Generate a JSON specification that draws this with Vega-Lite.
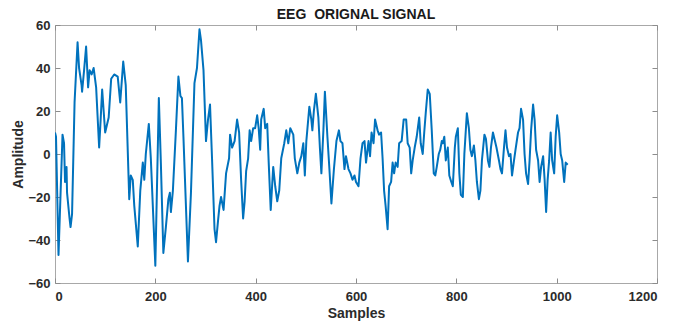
{
  "$schema": "https://vega.github.io/schema/vega-lite/v6.json",
  "width": 602,
  "height": 258,
  "autosize": {"type": "none"},
  "padding": {"left": 55, "top": 25, "right": 24, "bottom": 38},
  "background": "white",
  "title": {"text": "EEG\u00a0 ORIGNAL SIGNAL", "font": "Liberation Sans", "fontSize": 14, "fontWeight": "bold", "color": "#1a1a1a", "offset": -3, "anchor": "middle"},
  "data": {"values": [
    {"s":0,"v":10},{"s":2,"v":8},{"s":7,"v":-47},{"s":15,"v":9},{"s":18,"v":5},{"s":20,"v":-13},{"s":23,"v":-6},{"s":24,"v":-18},{"s":29,"v":-30},{"s":31,"v":-34},{"s":34,"v":-28},{"s":39,"v":24},{"s":45,"v":52},{"s":48,"v":40},{"s":53,"v":32},{"s":54,"v":29},{"s":58,"v":39},{"s":62,"v":50},{"s":66,"v":31},{"s":69,"v":39},{"s":73,"v":37},{"s":77,"v":40},{"s":82,"v":31},{"s":88,"v":3},{"s":91,"v":16},{"s":94,"v":30},{"s":100,"v":10},{"s":107,"v":17},{"s":112,"v":35},{"s":118,"v":37},{"s":125,"v":36},{"s":130,"v":24},{"s":136,"v":43},{"s":141,"v":32},{"s":148,"v":-21},{"s":151,"v":-10},{"s":155,"v":-12},{"s":158,"v":-24},{"s":165,"v":-43},{"s":170,"v":-17},{"s":175,"v":-4},{"s":178,"v":-12},{"s":181,"v":0},{"s":187,"v":14},{"s":191,"v":-2},{"s":200,"v":-52},{"s":207,"v":26},{"s":211,"v":-4},{"s":216,"v":-46},{"s":221,"v":-34},{"s":226,"v":-21},{"s":229,"v":-18},{"s":231,"v":-27},{"s":235,"v":-17},{"s":241,"v":11},{"s":246,"v":36},{"s":250,"v":27},{"s":253,"v":26},{"s":256,"v":8},{"s":265,"v":-50},{"s":271,"v":-18},{"s":278,"v":33},{"s":283,"v":40},{"s":288,"v":58},{"s":291,"v":53},{"s":296,"v":39},{"s":301,"v":6},{"s":305,"v":16},{"s":309,"v":23},{"s":313,"v":-2},{"s":318,"v":-35},{"s":321,"v":-41},{"s":325,"v":-31},{"s":328,"v":-24},{"s":331,"v":-20},{"s":336,"v":-26},{"s":341,"v":-9},{"s":347,"v":-2},{"s":349,"v":9},{"s":353,"v":3},{"s":358,"v":6},{"s":363,"v":16},{"s":367,"v":10},{"s":371,"v":-12},{"s":375,"v":-30},{"s":378,"v":-22},{"s":381,"v":-8},{"s":385,"v":-2},{"s":388,"v":11},{"s":391,"v":6},{"s":395,"v":12},{"s":399,"v":12},{"s":403,"v":18},{"s":406,"v":12},{"s":409,"v":2},{"s":411,"v":16},{"s":416,"v":21},{"s":419,"v":12},{"s":423,"v":14},{"s":426,"v":-4},{"s":430,"v":-26},{"s":435,"v":-6},{"s":439,"v":-15},{"s":443,"v":-22},{"s":447,"v":-17},{"s":451,"v":-2},{"s":457,"v":5},{"s":461,"v":11},{"s":465,"v":5},{"s":469,"v":12},{"s":475,"v":9},{"s":478,"v":-2},{"s":483,"v":-9},{"s":487,"v":-4},{"s":491,"v":-1},{"s":495,"v":5},{"s":498,"v":-10},{"s":501,"v":6},{"s":507,"v":22},{"s":511,"v":16},{"s":513,"v":11},{"s":516,"v":20},{"s":520,"v":28},{"s":525,"v":17},{"s":528,"v":3},{"s":531,"v":-9},{"s":535,"v":11},{"s":538,"v":29},{"s":543,"v":8},{"s":547,"v":-7},{"s":551,"v":-23},{"s":556,"v":-7},{"s":561,"v":6},{"s":566,"v":11},{"s":569,"v":6},{"s":573,"v":5},{"s":577,"v":-7},{"s":580,"v":-1},{"s":585,"v":-7},{"s":589,"v":-9},{"s":593,"v":-12},{"s":597,"v":-10},{"s":600,"v":-13},{"s":605,"v":-15},{"s":609,"v":-2},{"s":613,"v":5},{"s":617,"v":6},{"s":620,"v":-4},{"s":625,"v":6},{"s":628,"v":-1},{"s":631,"v":10},{"s":635,"v":5},{"s":638,"v":16},{"s":643,"v":11},{"s":646,"v":9},{"s":650,"v":10},{"s":653,"v":-2},{"s":656,"v":-17},{"s":659,"v":-24},{"s":663,"v":-35},{"s":666,"v":-15},{"s":670,"v":-13},{"s":673,"v":-4},{"s":676,"v":-9},{"s":679,"v":-4},{"s":683,"v":-6},{"s":686,"v":5},{"s":691,"v":6},{"s":695,"v":16},{"s":700,"v":16},{"s":703,"v":5},{"s":707,"v":3},{"s":710,"v":-9},{"s":713,"v":-3},{"s":717,"v":3},{"s":721,"v":8},{"s":726,"v":17},{"s":729,"v":5},{"s":733,"v":0},{"s":736,"v":10},{"s":739,"v":19},{"s":743,"v":30},{"s":747,"v":28},{"s":751,"v":11},{"s":755,"v":-9},{"s":758,"v":-10},{"s":761,"v":-6},{"s":765,"v":0},{"s":768,"v":2},{"s":771,"v":6},{"s":773,"v":5},{"s":776,"v":8},{"s":779,"v":-3},{"s":783,"v":3},{"s":786,"v":-10},{"s":790,"v":-13},{"s":793,"v":-15},{"s":797,"v":3},{"s":799,"v":8},{"s":803,"v":12},{"s":806,"v":-9},{"s":809,"v":-19},{"s":813,"v":-20},{"s":816,"v":0},{"s":821,"v":19},{"s":825,"v":12},{"s":828,"v":2},{"s":831,"v":-1},{"s":835,"v":4},{"s":838,"v":-3},{"s":841,"v":-13},{"s":845,"v":-21},{"s":848,"v":-17},{"s":851,"v":-3},{"s":856,"v":9},{"s":859,"v":7},{"s":863,"v":-3},{"s":866,"v":-6},{"s":869,"v":3},{"s":873,"v":10},{"s":877,"v":6},{"s":880,"v":3},{"s":885,"v":-3},{"s":888,"v":-7},{"s":891,"v":-9},{"s":895,"v":3},{"s":898,"v":11},{"s":901,"v":3},{"s":905,"v":-1},{"s":908,"v":0},{"s":911,"v":-10},{"s":915,"v":-3},{"s":918,"v":2},{"s":923,"v":10},{"s":926,"v":12},{"s":929,"v":21},{"s":933,"v":16},{"s":936,"v":0},{"s":939,"v":-9},{"s":943,"v":-14},{"s":946,"v":-3},{"s":949,"v":11},{"s":953,"v":23},{"s":956,"v":16},{"s":959,"v":2},{"s":963,"v":-3},{"s":966,"v":-13},{"s":969,"v":-6},{"s":973,"v":-1},{"s":976,"v":-12},{"s":979,"v":-27},{"s":982,"v":-12},{"s":985,"v":-3},{"s":988,"v":10},{"s":991,"v":-3},{"s":995,"v":-9},{"s":998,"v":8},{"s":1001,"v":18},{"s":1005,"v":10},{"s":1008,"v":0},{"s":1011,"v":-3},{"s":1015,"v":-13},{"s":1018,"v":-4},{"s":1022,"v":-5}
  ]},
  "layer": [
    {
      "mark": {"type": "line", "color": "#0072BD", "strokeWidth": 2, "strokeJoin": "round", "clip": true},
      "encoding": {
        "x": {"field": "s", "type": "quantitative", "scale": {"domain": [0, 1200], "nice": false, "zero": false},
              "axis": {"values": [0, 200, 400, 600, 800, 1000, 1200], "format": "d", "title": "Samples", "titlePadding": 3, "labelPadding": 12}},
        "y": {"field": "v", "type": "quantitative", "scale": {"domain": [-60, 60], "nice": false, "zero": false},
              "axis": {"values": [-60, -40, -20, 0, 20, 40, 60], "format": "d", "title": "Amplitude", "titlePadding": 2, "labelPadding": 10}}
      }
    },
    {
      "mark": {"type": "line", "opacity": 0},
      "encoding": {
        "x": {"field": "s", "type": "quantitative", "scale": {"domain": [0, 1200], "nice": false, "zero": false},
              "axis": {"orient": "top", "values": [0, 200, 400, 600, 800, 1000, 1200], "labels": false, "title": null}},
        "y": {"field": "v", "type": "quantitative", "scale": {"domain": [-60, 60], "nice": false, "zero": false},
              "axis": {"orient": "right", "values": [-60, -40, -20, 0, 20, 40, 60], "labels": false, "title": null}}
      }
    }
  ],
  "resolve": {"axis": {"x": "independent", "y": "independent"}},
  "config": {
    "view": {"stroke": "#a8a8a8", "strokeWidth": 1},
    "axis": {
      "grid": false, "domain": false, "ticks": true, "tickColor": "#8c8c8c", "tickSize": -5,
      "labelFont": "Liberation Sans", "labelFontWeight": "bold", "labelFontSize": 13, "labelColor": "#2b2b2b",
      "titleFont": "Liberation Sans", "titleFontWeight": "bold", "titleFontSize": 14, "titleColor": "#2b2b2b"
    }
  }
}
